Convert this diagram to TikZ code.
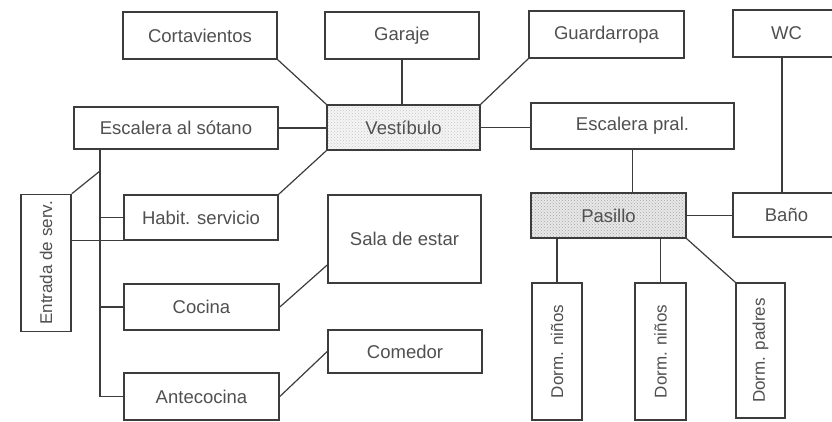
\documentclass[tikz,border=0pt]{standalone}
\usepackage{fontspec}
\setmainfont{Liberation Sans}
\usetikzlibrary{calc,patterns}
\definecolor{ln}{HTML}{3C3C3C}
\definecolor{tx}{HTML}{505050}
\begin{document}
\begin{tikzpicture}[x=1pt,y=-1pt,
  box/.style={draw=ln,line width=1.6pt,rectangle,inner sep=0pt,text=tx,
    font=\fontsize{18.5}{21}\selectfont},
  vbox/.style={box,font=\fontsize{17}{20}\selectfont},
  con/.style={draw=ln,line width=1.2pt},
  hatchA/.style={preaction={fill=gray!8},pattern=crosshatch dots,pattern color=gray!45},
  hatchB/.style={preaction={fill=gray!18},pattern=crosshatch dots,pattern color=gray!70}]
\clip (0,0) rectangle (832,421);
\useasboundingbox (0,0) rectangle (832,421);
\fill[white] (0,0) rectangle (832,421);
% top row
\node[box,minimum width=154pt,minimum height=47pt] (cort) at (200,35.5) {Cortavientos};
\node[box,minimum width=154pt,minimum height=47pt] (gar) at (402,35.5) {Garaje};
\node[box,minimum width=155pt,minimum height=47pt] (guar) at (606.5,34.5) {Guardarropa};
\node[box,minimum width=107pt,minimum height=47pt] (wc) at (786.5,33.5) {WC};
% second row
\node[box,minimum width=204pt,minimum height=42pt] (esot) at (176,128) {Escalera al sótano};
\node[box,hatchA,minimum width=153pt,minimum height=45pt] (vest) at (403.5,127.5) {Vestíbulo};
\node[box,minimum width=203pt,minimum height=46pt] (epral) at (632.5,126) {Escalera pral.};
% third row
\node[box,minimum width=154pt,minimum height=45pt] (hab) at (201,217.5) {Habit. servicio};
\node[box,minimum width=153pt,minimum height=88pt] (sala) at (404.5,239) {Sala de estar};
\node[box,hatchB,minimum width=155pt,minimum height=45pt] (pas) at (608.5,215.5) {Pasillo};
\node[box,minimum width=107pt,minimum height=44pt] (bano) at (786.5,215) {Baño};
\node[vbox,rotate=90,minimum width=137pt,minimum height=50pt] (ent) at (46,263) {Entrada de serv.};
% lower
\node[box,minimum width=155pt,minimum height=46pt] (coc) at (201.5,307) {Cocina};
\node[box,minimum width=154pt,minimum height=43pt] (com) at (405,351.5) {Comedor};
\node[box,minimum width=155pt,minimum height=47pt] (ante) at (201.5,396.5) {Antecocina};
\node[vbox,rotate=90,minimum width=137pt,minimum height=50pt] (d1) at (557,351.5) {Dorm. niños};
\node[vbox,rotate=90,minimum width=137pt,minimum height=51pt] (d2) at (660.5,351.5) {Dorm. niños};
\node[vbox,rotate=90,minimum width=135pt,minimum height=49pt] (dp) at (760.5,350.5) {Dorm. padres};
% helper coordinates
\coordinate (bx) at (100,0);
\coordinate (jn) at (100,171);
\coordinate (sl) at (0,265);
\coordinate (wx) at (782,0);
% connectors
\draw[con] (cort.south east) -- (vest.north west);
\draw[con] (gar.south) -- (gar.south |- vest.north);
\draw[con] (guar.south west) -- (vest.north east);
\draw[con] (esot.east) -- (esot.east -| vest.west);
\draw[con] (vest.south west) -- (hab.north east);
\draw[con] (vest.east) -- (vest.east -| epral.west);
\draw[con] (epral.south) -- (epral.south |- pas.north);
\draw[con] (wc.south -| wx) -- (bano.north -| wx);
\draw[con] (pas.east) -- (pas.east -| bano.west);
\draw[con] (d1.east) -- (d1.east |- pas.south);
\draw[con] (d2.east) -- (d2.east |- pas.south);
\draw[con] (pas.south east) -- (dp.north east);
\draw[con] (coc.east) -- (sala.west |- sl);
\draw[con] (ante.east) -- (com.west);
\draw[con] (esot.south -| bx) -- (ante.west -| bx) -- (ante.west);
\draw[con] (hab.west -| bx) -- (hab.west);
\draw[con] (coc.west -| bx) -- (coc.west);
\draw[con] (ent.south east) -- (jn);
\draw[con] (ent.south |- hab.south) -- (hab.south west);
\end{tikzpicture}
\end{document}
